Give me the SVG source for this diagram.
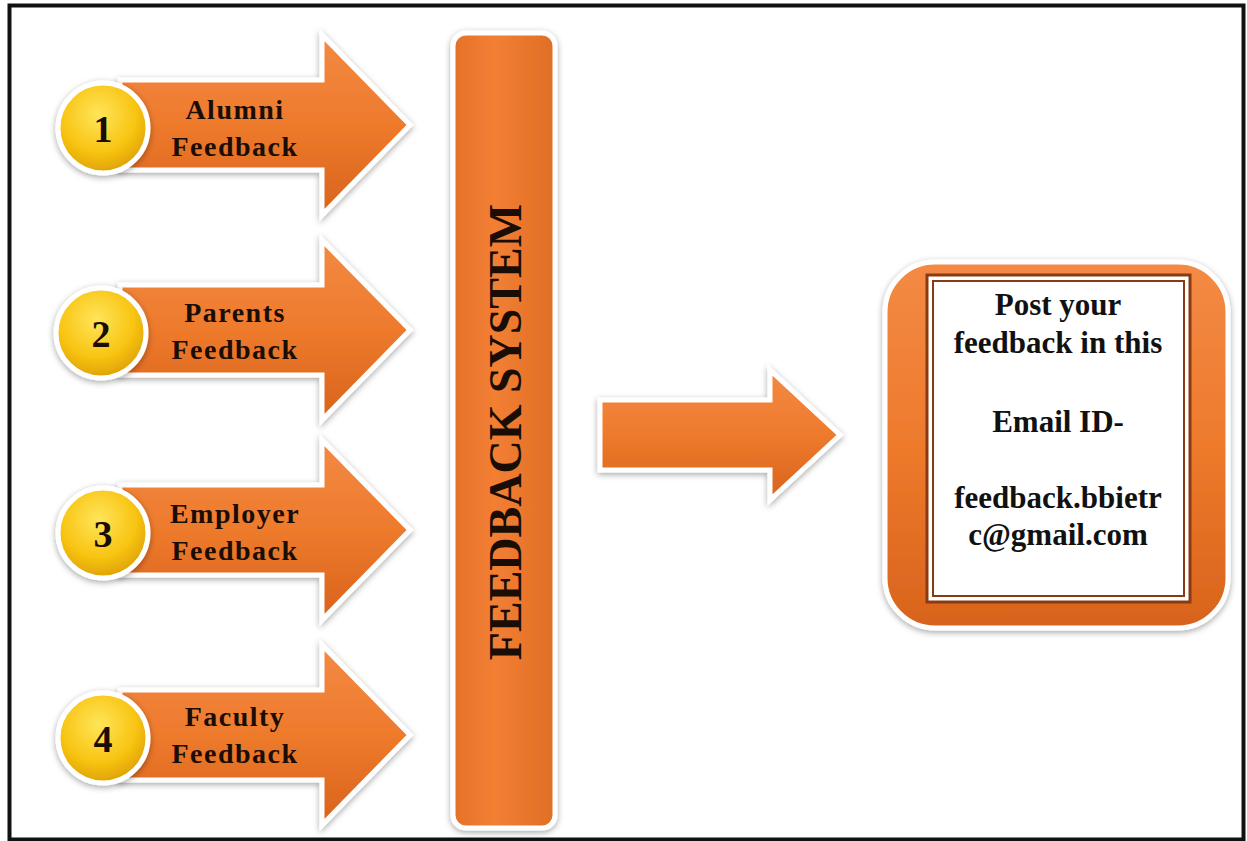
<svg xmlns="http://www.w3.org/2000/svg" width="1247" height="841" viewBox="0 0 1247 841">
<defs>
  <style>
    .lbl{font-family:"Liberation Serif","Times New Roman",serif;font-weight:bold;font-size:28px;fill:#1a0d05;text-anchor:middle;letter-spacing:1.5px}
    .num{font-family:"Liberation Serif","Times New Roman",serif;font-weight:bold;font-size:38px;fill:#1a0d05;text-anchor:middle}
    .box{font-family:"Liberation Serif","Times New Roman",serif;font-weight:bold;font-size:31px;fill:#111;text-anchor:middle}
    .orange{fill:url(#og);stroke:#fff;stroke-width:5;filter:url(#sh)}
    .coin{fill:url(#yg);stroke:#fff;stroke-width:5;filter:url(#sh)}
  </style>
  <linearGradient id="og" x1="0" y1="0" x2="0" y2="1">
    <stop offset="0" stop-color="#f38a45"/>
    <stop offset="0.5" stop-color="#ee7a2c"/>
    <stop offset="1" stop-color="#d8631c"/>
  </linearGradient>
  <linearGradient id="vg" x1="0" y1="0" x2="1" y2="0">
    <stop offset="0" stop-color="#e5712a"/>
    <stop offset="0.4" stop-color="#f27f33"/>
    <stop offset="1" stop-color="#e06e26"/>
  </linearGradient>
  <radialGradient id="yg" cx="0.45" cy="0.35" r="0.7">
    <stop offset="0" stop-color="#ffe55a"/>
    <stop offset="0.6" stop-color="#f8c412"/>
    <stop offset="1" stop-color="#d99a00"/>
  </radialGradient>
  <filter id="sh" x="-20%" y="-20%" width="140%" height="140%">
    <feDropShadow dx="0" dy="2" stdDeviation="3" flood-color="#000" flood-opacity="0.35"/>
  </filter>
  <path id="arw" d="M 120 -45 L 322 -45 L 322 -90 L 410 0 L 322 90 L 322 45 L 120 45 Z"/>
</defs>
<rect x="0" y="0" width="1247" height="841" fill="#fff"/>
<rect x="9.5" y="5.5" width="1234" height="834" fill="none" stroke="#111" stroke-width="4"/>

<g id="n1" transform="translate(0,125)">
  <use href="#arw" class="orange"/>
  <circle cx="103" cy="3" r="45" class="coin"/>
  <text x="103" y="17" class="num">1</text>
  <text x="235" y="-6" class="lbl">Alumni</text>
  <text x="235" y="31" class="lbl">Feedback</text>
</g>
<g id="n2" transform="translate(0,330)">
  <use href="#arw" class="orange"/>
  <circle cx="101" cy="3" r="45" class="coin"/>
  <text x="101" y="17" class="num">2</text>
  <text x="235" y="-8" class="lbl">Parents</text>
  <text x="235" y="29" class="lbl">Feedback</text>
</g>
<g id="n3" transform="translate(0,530)">
  <use href="#arw" class="orange"/>
  <circle cx="103" cy="3" r="45" class="coin"/>
  <text x="103" y="17" class="num">3</text>
  <text x="235" y="-7" class="lbl">Employer</text>
  <text x="235" y="30" class="lbl">Feedback</text>
</g>
<g id="n4" transform="translate(0,735)">
  <use href="#arw" class="orange"/>
  <circle cx="103" cy="3" r="45" class="coin"/>
  <text x="103" y="17" class="num">4</text>
  <text x="235" y="-9" class="lbl">Faculty</text>
  <text x="235" y="28" class="lbl">Feedback</text>
</g>

<g id="system">
  <rect x="453" y="33" width="102" height="795" rx="13" fill="url(#vg)" stroke="#fff" stroke-width="5" filter="url(#sh)"/>
  <text transform="translate(521,432) rotate(-90)" font-family="Liberation Serif,Times New Roman,serif" font-weight="bold" font-size="46" fill="#1a0d05" text-anchor="middle">FEEDBACK SYSTEM</text>
</g>

<g id="connectors">
  <path d="M 600 400 L 770 400 L 770 370 L 840 435 L 770 500 L 770 470 L 600 470 Z" class="orange"/>
</g>

<g id="email">
  <rect x="885" y="262" width="343" height="366" rx="50" fill="url(#og)" stroke="#fff" stroke-width="5" filter="url(#sh)"/>
  <rect x="927" y="275" width="263" height="327" fill="#fff" stroke="#8a3a12" stroke-width="3"/>
  <rect x="933" y="281" width="251" height="315" fill="none" stroke="#8a3a12" stroke-width="2"/>
  <text x="1058" y="315" class="box">Post your</text>
  <text x="1058" y="353" class="box">feedback in this</text>
  <text x="1058" y="432" class="box">Email ID-</text>
  <text x="1058" y="508" class="box">feedback.bbietr</text>
  <text x="1058" y="545" class="box">c@gmail.com</text>
</g>
</svg>
